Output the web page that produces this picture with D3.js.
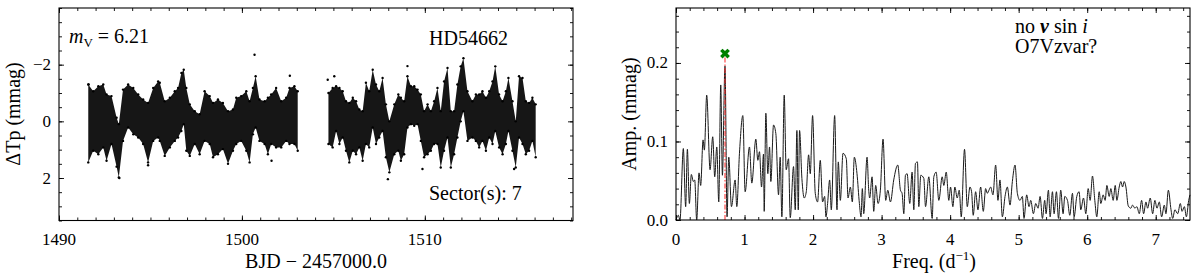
<!DOCTYPE html>
<html lang="en">
<script src="https://d3js.org/d3.v7.min.js"></script>
<style>
  body { margin: 0; background: white; }
  svg text { font-family: "Liberation Serif", "DejaVu Serif", serif; fill: black; }
  .lbl { font-size: 20px; }
  .tl { font-size: 17px; }
</style>
<body>
<svg id="chart" width="1200" height="277"></svg>
<script>
// light curve envelope (BJD - 2457000, upper / lower edge in mmag)
var lcTime = [1491.60,1491.87,1492.15,1492.42,1492.60,1492.87,1493.15,1493.27,1493.50,1493.78,1494.06,1494.33,1494.60,1494.87,1495.15,1495.42,1495.51,1495.78,1496.06,1496.33,1496.51,1496.69,1496.82,1496.96,1497.15,1497.42,1497.69,1497.96,1498.24,1498.42,1498.69,1498.96,1499.24,1499.51,1499.69,1499.96,1500.24,1500.42,1500.60,1500.75,1500.96,1501.24,1501.42,1501.60,1501.87,1502.15,1502.42,1502.60,1502.87,1503.05,
  1504.73,1504.96,1505.15,1505.33,1505.51,1505.69,1505.87,1506.06,1506.24,1506.42,1506.60,1506.78,1506.96,1507.15,1507.33,1507.51,1507.69,1507.87,1508.06,1508.33,1508.55,1508.69,1508.87,1509.05,1509.24,1509.42,1509.60,1509.78,1509.96,1510.15,1510.33,1510.51,1510.69,1510.87,1511.05,1511.24,1511.42,1511.60,1511.78,1511.96,1512.11,1512.33,1512.60,1512.79,1512.97,1513.15,1513.34,1513.52,1513.70,1513.85,1514.06,1514.25,1514.43,1514.57,1514.79,1514.97,1515.15,1515.34,1515.52,1515.70,1515.88,1516.06];
var lcUpper = [-1.30,-1.06,-1.24,-1.30,-0.95,-0.89,-0.13,0.10,-1.12,-1.30,-1.18,-0.95,-0.77,-0.65,-1.18,-1.41,-1.36,-0.71,-0.83,-1.06,-1.18,-1.71,-1.82,-1.18,-0.60,-0.36,-0.25,-1.06,-0.89,-0.65,-0.77,-0.65,-0.36,-0.42,-0.83,-0.89,-1.06,-0.71,-1.18,-1.59,-0.77,-0.71,-0.83,-0.95,-1.18,-0.71,-0.83,-1.18,-1.24,-1.06,
  -1.00,-1.18,-1.24,-1.18,-1.06,-0.71,-0.65,-0.83,-0.71,-0.42,-0.36,-1.36,-1.06,-1.82,-1.30,-1.06,-1.53,-0.60,0.00,-0.60,-0.95,-0.83,-0.71,-1.59,-1.24,-1.24,-1.12,-0.95,-0.36,-0.60,-0.36,-0.71,-1.18,-0.36,-1.41,-1.88,-0.36,-0.36,-1.30,-1.94,-2.23,-1.06,-0.71,-0.95,-0.95,-1.06,-0.83,-1.06,-1.41,-1.94,-0.95,-0.71,-1.06,-1.53,-0.71,0.00,-1.59,-1.53,-0.71,-0.65,-0.83,-0.60];
var lcLower = [1.45,1.04,1.16,0.92,1.39,0.80,1.60,1.98,0.69,0.22,0.46,0.57,0.80,1.45,0.69,0.57,0.69,1.22,0.92,0.69,0.57,0.34,0.10,1.04,1.22,0.80,1.16,0.69,0.80,1.27,1.16,0.98,1.50,1.04,0.80,0.69,1.04,1.45,0.46,0.22,0.69,0.80,1.16,0.80,0.92,0.92,0.69,0.80,0.80,1.04,
  0.80,0.92,0.34,0.80,0.57,1.04,1.45,1.04,1.16,0.92,1.39,0.80,0.92,0.22,0.80,0.57,0.34,1.27,1.80,1.16,1.04,1.39,1.16,0.22,0.10,0.16,0.10,0.69,1.27,1.16,1.04,0.80,0.80,1.63,1.04,0.57,1.63,1.16,0.57,0.00,-0.36,0.69,0.57,0.69,0.92,0.69,1.04,0.57,0.80,0.34,0.92,1.16,0.80,0.34,1.04,1.63,0.57,0.80,1.16,1.04,0.69,1.27];
// isolated points
var outTime = [1491.62,1493.30,1494.87,1500.69,1501.62,1502.62,1504.69,1505.05,1507.98,1509.05,1509.87,1514.88];
var outMag  = [-1.30,2.00,1.55,-2.35,1.39,-1.61,-1.47,-1.59,2.04,-1.95,1.68,1.68];

// amplitude spectrum
var freq = [0,0.034,0.058,0.107,0.141,0.166,0.195,0.224,0.253,0.273,0.302,0.336,0.36,0.395,0.414,0.448,0.497,0.536,0.565,0.595,0.624,0.653,0.677,0.715,0.745,0.77,0.809,0.863,0.887,0.926,0.975,1.009,1.072,1.106,1.165,1.194,1.218,1.248,1.277,1.287,1.311,1.34,1.365,1.384,1.423,1.457,1.496,1.52,1.545,1.579,1.608,1.642,1.667,1.715,1.74,1.764,1.784,1.803,1.837,1.871,1.901,1.935,1.959,1.993,2.032,2.066,2.105,2.139,2.169,2.188,2.212,2.242,2.266,2.315,2.349,2.368,2.398,2.437,2.485,2.51,2.544,2.573,2.602,2.641,2.676,2.7,2.719,2.739,2.788,2.812,2.826,2.861,2.885,2.914,2.948,2.982,3.021,3.06,3.09,3.129,3.177,3.236,3.275,
  3.299,3.324,3.348,3.372,3.411,3.445,3.47,3.494,3.523,3.543,3.572,3.616,3.641,3.689,3.738,3.762,3.796,3.835,3.884,3.908,3.943,3.981,4.006,4.04,4.069,4.103,4.133,4.162,4.21,4.25,4.289,4.313,4.337,4.372,4.406,4.445,4.484,4.518,4.542,4.567,4.591,4.625,4.664,4.698,4.727,4.762,4.801,4.835,4.874,4.908,4.947,4.981,5.019,5.054,5.078,5.117,5.151,5.176,5.215,5.249,5.283,5.313,5.347,5.38,5.4,5.434,5.459,5.493,5.517,5.551,5.581,5.614,5.648,5.673,5.712,5.746,5.785,5.809,5.848,5.882,5.906,5.946,5.98,6.014,6.043,6.077,6.111,6.14,6.175,6.199,6.233,6.262,6.287,6.321,6.345,6.379,6.409,6.433,6.467,6.491,6.516,6.54,6.565,6.599,6.637,6.662,6.696,6.725,6.76,6.794,6.823,6.857,6.881,6.92,6.955,6.988,7.018,7.052,7.086,7.125,7.149,7.184,7.223,7.247,7.28,7.32,7.359,7.384,7.418,7.447,7.481,7.5];
var amp = [0,0.006,0,0.091,0.017,0.09,0.021,0.058,0.049,0.051,0,0.06,0.044,0.102,0.089,0.159,0.064,0.106,0.055,0.093,0.023,0.172,0.057,0.196,0.004,0.08,0.017,0.051,0.017,0.085,0.133,0.036,0.093,0.047,0.103,0.076,0.087,0.042,0.084,0.011,0.136,0.059,0.093,0.049,0.121,0.11,0.032,0.08,0.004,0.159,0.064,0.078,0.003,0.068,0.013,0.114,0.013,0.114,0.053,0.028,0.036,0.083,0.059,0.133,0.034,0.023,0.076,0.023,0.03,0.004,0.021,0.051,0.013,0.133,0.013,0.074,0.025,0.085,0.078,0.028,0.042,0.023,0.08,0.059,0.021,0.004,0.04,0.008,0.08,0.038,0.028,0.055,0.011,0.044,0.021,0.038,0.103,0.025,0.038,0.023,0.051,0.07,0.038,
  0.034,0.008,0.057,0.059,0.021,0.061,0.013,0.072,0.074,0.017,0.057,0.053,0.017,0.055,0.002,0.055,0.061,0.025,0.055,0.044,0.061,0.025,0.042,0.017,0.042,0.028,0.038,0.004,0.09,0.017,0.042,0.036,0.006,0.036,0.013,0.042,0.011,0.04,0.034,0.038,0.042,0.032,0.07,0.025,0.051,0.004,0.03,0.042,0.019,0.049,0.07,0.034,0.025,0.03,0.002,0.032,0.017,0.025,0.008,0.021,0.015,0.03,0.002,0.025,0.008,0.038,0.004,0.036,0.008,0.036,0.002,0.038,0.008,0.03,0.025,0.006,0.034,0.004,0.03,0.036,0.013,0.028,0.008,0.04,0.025,0.056,0.025,0.004,0.036,0.021,0.032,0.025,0.044,0.03,0.04,0.025,0.044,0.025,0.042,0.049,0.042,0.049,0.042,0.018,0.015,0.019,0.015,0.017,0.008,0.025,0.008,0.023,0.015,0.028,0.008,0.025,0.015,0.023,0.004,0.019,0.008,0.038,0.013,0.002,0.013,0.008,0.021,0.011,0.017,0.004,0.025,0.032];
var peakFreq = 0.715;
var peakAmp = 0.212;

var lcTicks = [1490, 1500, 1510];
var magTicks = [-2, 0, 2];
var freqTicks = [0, 1, 2, 3, 4, 5, 6, 7];
var ampTicks = [0.0, 0.1, 0.2];

var svg = d3.select("#chart");

function axes(x, y, xMajor, xMinor, yMajor, yMinor, xFmt, yFmt) {
  var left = x.range()[0], right = x.range()[1];
  var top = Math.min(y.range()[0], y.range()[1]), bottom = Math.max(y.range()[0], y.range()[1]);
  var g = svg.append("g");
  function put(axis, tx, ty) {
    var a = g.append("g").attr("transform", "translate(" + tx + "," + ty + ")").call(axis);
    a.select(".domain").remove();
    a.selectAll("text").remove();
    a.selectAll(".tick line").attr("stroke", "black").attr("stroke-width", 0.9);
  }
  put(d3.axisBottom(x).tickValues(xMajor).tickSize(-5), 0, bottom);
  put(d3.axisBottom(x).tickValues(xMinor).tickSize(-3), 0, bottom);
  put(d3.axisTop(x).tickValues(xMajor).tickSize(-5), 0, top);
  put(d3.axisTop(x).tickValues(xMinor).tickSize(-3), 0, top);
  put(d3.axisLeft(y).tickValues(yMajor).tickSize(-5), left, 0);
  put(d3.axisLeft(y).tickValues(yMinor).tickSize(-3), left, 0);
  put(d3.axisRight(y).tickValues(yMajor).tickSize(-5), right, 0);
  put(d3.axisRight(y).tickValues(yMinor).tickSize(-3), right, 0);
  // tick labels as plain serif text
  g.selectAll(".xl").data(xMajor).enter().append("text").attr("class", "tl")
    .attr("x", function(d) { return x(d); }).attr("y", bottom + 24.5)
    .attr("text-anchor", "middle").text(xFmt);
  g.selectAll(".yl").data(yMajor).enter().append("text").attr("class", "tl")
    .attr("x", left - 8).attr("y", function(d) { return y(d) + 5.5; })
    .attr("text-anchor", "end").text(yFmt);
  g.append("rect").attr("x", left).attr("y", top)
    .attr("width", right - left).attr("height", bottom - top)
    .attr("fill", "none").attr("stroke", "black").attr("stroke-width", 1.1);
}

// ---------- left panel: light curve ----------
var xL = d3.scaleLinear().domain([1490, 1518.1]).range([59, 573]);
var yL = d3.scaleLinear().domain([-4, 3.5]).range([8, 220.5]);

var lc = lcTime.map(function(t, i) { return {t: t, hi: lcUpper[i], lo: lcLower[i]}; });
var segs = [[]];
lc.forEach(function(d, i) {
  if (i > 0 && d.t - lc[i - 1].t > 1) segs.push([]);
  segs[segs.length - 1].push(d);
});

var band = d3.area()
  .x(function(d) { return xL(d.t); })
  .y0(function(d) { return yL(d.lo); })
  .y1(function(d) { return yL(d.hi); });

svg.append("g").selectAll("path").data(segs).enter().append("path")
  .attr("d", band).attr("fill", "#161616");

var edgePts = [];
lc.forEach(function(d) { edgePts.push([d.t, d.hi]); edgePts.push([d.t, d.lo]); });
outTime.forEach(function(t, i) { edgePts.push([t, outMag[i]]); });
svg.append("g").selectAll("circle").data(edgePts).enter().append("circle")
  .attr("cx", function(d) { return xL(d[0]); })
  .attr("cy", function(d) { return yL(d[1]); })
  .attr("r", 1.2).attr("fill", "black");

axes(xL, yL, lcTicks, d3.range(1490, 1519, 1), magTicks, d3.range(-4, 3.51, 0.5),
  d3.format("d"), d3.format("d"));

var mv = svg.append("text").attr("x", 69).attr("y", 43).attr("class", "lbl");
mv.append("tspan").attr("font-style", "italic").text("m");
mv.append("tspan").attr("font-size", "13px").attr("dy", 4).text("V");
mv.append("tspan").attr("dy", -4).text(" = 6.21");
svg.append("text").attr("class", "lbl").attr("x", 429).attr("y", 45).text("HD54662");
svg.append("text").attr("class", "lbl").attr("x", 429).attr("y", 200).text("Sector(s): 7");

svg.append("text").attr("class", "lbl").attr("text-anchor", "middle")
  .attr("transform", "translate(20,114) rotate(-90)").text("ΔTp (mmag)");
svg.append("text").attr("class", "lbl").attr("text-anchor", "middle")
  .attr("x", 316).attr("y", 268).text("BJD − 2457000.0");

// ---------- right panel: amplitude spectrum ----------
var xR = d3.scaleLinear().domain([0, 7.5]).range([676, 1190]);
var yR = d3.scaleLinear().domain([0, 0.27]).range([220, 8]);

var spec = freq.map(function(f, i) { return [f, amp[i]]; });
svg.append("path").datum(spec)
  .attr("d", d3.line().curve(d3.curveMonotoneX)
    .x(function(d) { return xR(d[0]); })
    .y(function(d) { return yR(d[1]); }))
  .attr("fill", "none").attr("stroke", "#1a1a1a").attr("stroke-width", 1);

svg.append("line")
  .attr("x1", xR(peakFreq)).attr("x2", xR(peakFreq))
  .attr("y1", yR(0)).attr("y2", yR(peakAmp - 0.005))
  .attr("stroke", "#ff2a2a").attr("stroke-width", 1.2)
  .attr("stroke-dasharray", "5,2,1.5,2").attr("opacity", 0.85);

svg.append("path")
  .attr("d", d3.symbol(d3.symbolCross, 60)())
  .attr("transform", "translate(" + xR(peakFreq) + "," + yR(peakAmp) + ") rotate(45)")
  .attr("fill", "green");

axes(xR, yR, freqTicks, d3.range(0, 7.51, 0.2), ampTicks, d3.range(0, 0.271, 0.02),
  d3.format("d"), d3.format(".1f"));

var t1 = svg.append("text").attr("class", "lbl").attr("x", 1015).attr("y", 33);
t1.append("tspan").text("no ");
t1.append("tspan").attr("font-style", "italic").attr("font-weight", "bold").text("v");
t1.append("tspan").text(" sin ");
t1.append("tspan").attr("font-style", "italic").text("i");
svg.append("text").attr("class", "lbl").attr("x", 1015).attr("y", 53).text("O7Vzvar?");

svg.append("text").attr("class", "lbl").attr("text-anchor", "middle")
  .attr("transform", "translate(636,114) rotate(-90)").text("Amp. (mmag)");
var fl = svg.append("text").attr("class", "lbl").attr("text-anchor", "middle")
  .attr("x", 934).attr("y", 268);
fl.append("tspan").text("Freq. (d");
fl.append("tspan").attr("font-size", "13px").attr("dy", -8).text("−1");
fl.append("tspan").attr("dy", 8).text(")");
</script>
</body>
</html>
